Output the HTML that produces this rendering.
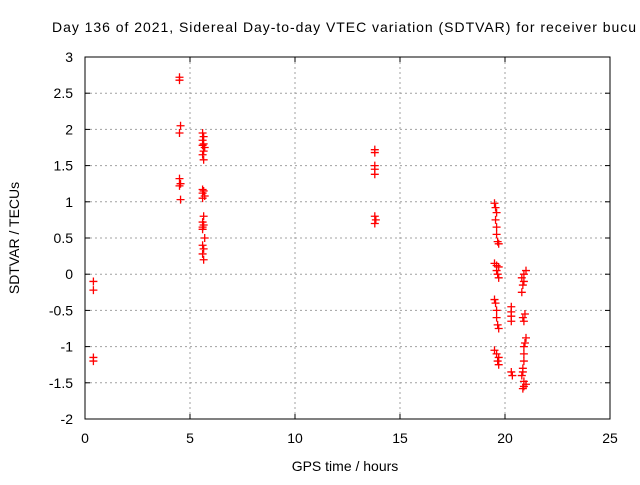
<!DOCTYPE html>
<html><head><meta charset="utf-8"><style>
body{margin:0;background:#fff}
svg text{font-family:"Liberation Sans",sans-serif;font-size:14px;fill:#000}
</style></head><body>
<svg id="c" width="640" height="480" xmlns="http://www.w3.org/2000/svg">
<text x="52" y="32" textLength="584" lengthAdjust="spacing">Day 136 of 2021, Sidereal Day-to-day VTEC variation (SDTVAR) for receiver bucu</text>
<text x="345" y="471" text-anchor="middle">GPS time / hours</text>
<text transform="translate(19,238) rotate(-90)" text-anchor="middle">SDTVAR / TECUs</text>
<g id="grid"></g><g id="ticks"></g><g id="pts"></g>
<rect x="85" y="57" width="525" height="362" fill="none" stroke="#000"/>
</svg>
<script>
const xTicks=[0,5,10,15,20,25];
const yTicks=[-2,-1.5,-1,-0.5,0,0.5,1,1.5,2,2.5,3];
const yTickLabels=["-2","-1.5","-1","-0.5","0","0.5","1","1.5","2","2.5","3"];
const xVals=[0.4,0.4,0.4,0.4,
4.5,4.5,4.55,4.5,4.5,4.55,4.5,4.55,
5.6,5.65,5.6,5.65,5.6,5.7,5.65,5.6,5.65,5.6,5.65,5.6,5.7,5.6,5.65,5.6,5.65,5.6,5.7,5.6,5.65,5.6,5.65,5.6,
13.8,13.8,13.8,13.8,13.8,13.8,13.85,13.8,
19.5,19.55,19.6,19.55,19.6,19.6,19.65,19.7,19.5,19.6,19.7,19.6,19.65,19.7,19.5,19.55,19.6,19.6,19.65,19.7,19.5,19.6,19.7,19.65,19.7,
20.3,20.3,20.3,20.3,20.3,20.35,
21.0,20.9,20.8,20.9,20.85,20.8,20.95,20.85,20.9,21.0,20.95,20.9,20.9,20.9,20.85,20.85,20.8,20.9,21.0,20.9,20.85];
const yVals=[-0.1,-0.22,-1.15,-1.2,
2.72,2.68,2.05,1.95,1.32,1.25,1.22,1.03,
1.95,1.9,1.85,1.8,1.78,1.75,1.7,1.65,1.58,1.17,1.15,1.12,1.08,1.05,0.8,0.72,0.68,0.62,0.5,0.4,0.35,0.28,0.2,0.65,
1.72,1.68,1.5,1.45,1.38,0.8,0.75,0.7,
0.98,0.92,0.85,0.75,0.65,0.55,0.45,0.42,0.15,0.12,0.1,0.05,0,-0.05,-0.35,-0.4,-0.5,-0.6,-0.7,-0.75,-1.05,-1.1,-1.15,-1.2,-1.25,
-0.45,-0.52,-0.58,-0.65,-1.35,-1.4,
0.05,0,-0.05,-0.1,-0.15,-0.25,-0.55,-0.6,-0.65,-0.88,-0.95,-1.0,-1.1,-1.2,-1.3,-1.35,-1.4,-1.48,-1.52,-1.55,-1.58];
const NS="http://www.w3.org/2000/svg";
const X=v=>85+v*21, Y=v=>57+(3-v)*72.4;
function mk(t,a,p){const e=document.createElementNS(NS,t);for(const k in a)e.setAttribute(k,a[k]);p.appendChild(e);return e;}
const g=document.getElementById('grid'),tk=document.getElementById('ticks'),pts=document.getElementById('pts');
xTicks.forEach(v=>{
 if(v>0&&v<25){const l=mk('line',{x1:X(v),x2:X(v),y1:57,y2:419,stroke:'#a0a0a0','stroke-dasharray':'2,3'},g);
 }
 const t=mk('text',{x:X(v),y:443,'text-anchor':'middle'},tk);t.textContent=v;
 
 mk('line',{x1:X(v),x2:X(v),y1:419,y2:414,stroke:'#000'},tk);mk('line',{x1:X(v),x2:X(v),y1:57,y2:62,stroke:'#000'},tk);
});
yTicks.forEach((v,i)=>{
 if(v>-2&&v<3){const l=mk('line',{x1:85,x2:610,y1:Y(v),y2:Y(v),stroke:'#a0a0a0','stroke-dasharray':'2,3'},g);
 }
 const t=mk('text',{x:73,y:Y(v)+5,'text-anchor':'end'},tk);t.textContent=yTickLabels[i];
 
 mk('line',{x1:85,x2:90,y1:Y(v),y2:Y(v),stroke:'#000'},tk);mk('line',{x1:605,x2:610,y1:Y(v),y2:Y(v),stroke:'#000'},tk);
});
xVals.forEach((xv,i)=>{
 const cx=X(xv),cy=Y(yVals[i]);
 const p=mk('path',{d:`M${cx-4},${cy}h8M${cx},${cy-4}v8`,stroke:'#f00','stroke-width':1.3},pts);
 
 
});
</script>
</body></html>
